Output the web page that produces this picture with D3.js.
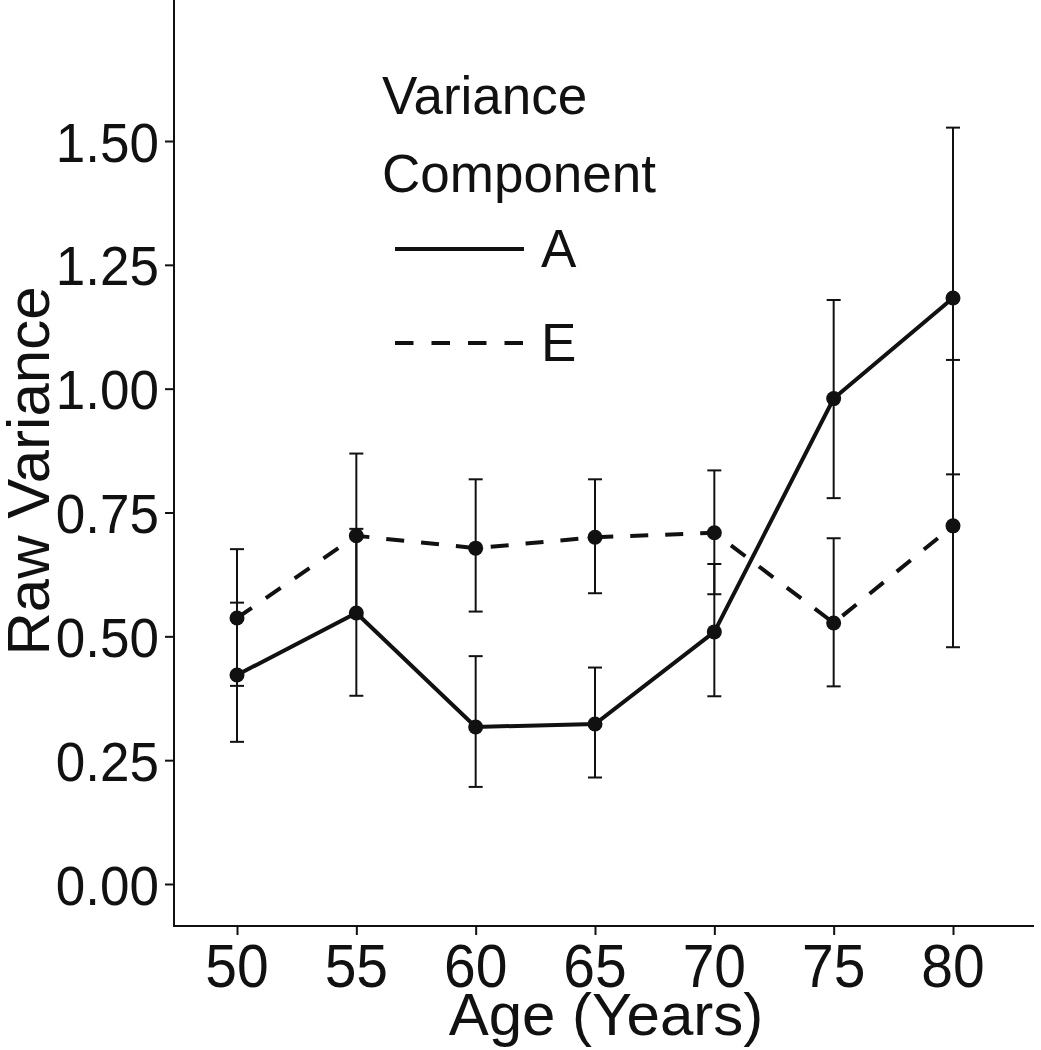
<!DOCTYPE html>
<html><head><meta charset="utf-8">
<script src="https://cdn.jsdelivr.net/npm/d3@7"></script>
<style>html,body{margin:0;padding:0;background:#fff;}svg{display:block;}</style>
</head><body>
<script>
const ages = [50, 55, 60, 65, 70, 75, 80];
const aVals = [0.422, 0.547, 0.317, 0.323, 0.509, 0.980, 1.183];
const aLow  = [0.287, 0.380, 0.196, 0.215, 0.379, 0.779, 0.827];
const aHigh = [0.568, 0.717, 0.460, 0.437, 0.646, 1.179, 1.527];
const eVals = [0.537, 0.703, 0.678, 0.700, 0.709, 0.527, 0.723];
const eLow  = [0.400, 0.540, 0.550, 0.587, 0.585, 0.399, 0.478];
const eHigh = [0.676, 0.869, 0.817, 0.817, 0.835, 0.698, 1.058];
const yTicks = [0, 0.25, 0.5, 0.75, 1.0, 1.25, 1.5];
const xTicks = [50, 55, 60, 65, 70, 75, 80];
const legendTitle = ["Variance", "Component"];
const seriesNames = ["A", "E"];

const W = 1041, H = 1050;
const font = "'Liberation Sans', Arial, Helvetica, sans-serif";
const ink = "#111";
const svg = d3.select("body").append("svg").attr("width", W).attr("height", H);

const x = d3.scaleLinear().domain([50, 80]).range([237, 953]);
const y = d3.scaleLinear().domain([0, 1.5]).range([884, 141]);
const axX = 174, axY = 926, xRight = 1034;

// axes lines
svg.append("line").attr("x1", axX).attr("x2", axX).attr("y1", 0).attr("y2", axY + 1)
  .attr("stroke", ink).attr("stroke-width", 2);
svg.append("line").attr("x1", axX - 1).attr("x2", xRight).attr("y1", axY).attr("y2", axY)
  .attr("stroke", ink).attr("stroke-width", 2);

// y axis ticks
const yAxis = d3.axisLeft(y).tickValues(yTicks).tickFormat("").tickSize(9);
const gy = svg.append("g").attr("transform", `translate(${axX},0)`).call(yAxis);
gy.select(".domain").remove();
gy.selectAll(".tick line").attr("stroke", ink).attr("stroke-width", 2);
const fmtY = d3.format(".2f");
svg.append("g").selectAll("text").data(yTicks).join("text")
  .attr("transform", d => `translate(159,${y(d) + 20.5}) scale(1,1.05)`)
  .attr("text-anchor", "end").attr("font-family", font).attr("font-size", 53).attr("fill", ink)
  .text(d => fmtY(d));

// x axis ticks
const xAxis = d3.axisBottom(x).tickValues(xTicks).tickFormat("").tickSize(9);
const gx = svg.append("g").attr("transform", `translate(0,${axY})`).call(xAxis);
gx.select(".domain").remove();
gx.selectAll(".tick line").attr("stroke", ink).attr("stroke-width", 2);
svg.append("g").selectAll("text").data(xTicks).join("text")
  .attr("transform", d => `translate(${x(d)},987) scale(1,1.08)`)
  .attr("text-anchor", "middle").attr("font-family", font).attr("font-size", 57).attr("fill", ink)
  .text(d => d3.format("d")(d));

// axis titles
svg.append("text").attr("x", 606).attr("y", 1035).attr("text-anchor", "middle")
  .attr("font-family", font).attr("font-size", 60).attr("fill", ink).text("Age (Years)");
svg.append("text").attr("transform", `translate(49,471) rotate(-90)`).attr("text-anchor", "middle")
  .attr("font-family", font).attr("font-size", 60).attr("fill", ink).text("Raw Variance");

const series = [
  {name: "A", vals: aVals, lo: aLow, hi: aHigh, dash: null},
  {name: "E", vals: eVals, lo: eLow, hi: eHigh, dash: "18,17"}
];

const line = d3.line().x(d => x(d.age)).y(d => y(d.v));

series.forEach(s => {
  const pts = ages.map((a, i) => ({age: a, v: s.vals[i], lo: s.lo[i], hi: s.hi[i]}));
  const g = svg.append("g");
  g.selectAll("line.eb").data(pts).join("line")
    .attr("x1", d => x(d.age)).attr("x2", d => x(d.age))
    .attr("y1", d => y(d.lo)).attr("y2", d => y(d.hi))
    .attr("stroke", ink).attr("stroke-width", 2);
  g.selectAll("line.cl").data(pts).join("line")
    .attr("x1", d => x(d.age) - 7).attr("x2", d => x(d.age) + 7)
    .attr("y1", d => y(d.lo)).attr("y2", d => y(d.lo))
    .attr("stroke", ink).attr("stroke-width", 2);
  g.selectAll("line.ch").data(pts).join("line")
    .attr("x1", d => x(d.age) - 7).attr("x2", d => x(d.age) + 7)
    .attr("y1", d => y(d.hi)).attr("y2", d => y(d.hi))
    .attr("stroke", ink).attr("stroke-width", 2);
  g.append("path").datum(pts).attr("d", line).attr("fill", "none")
    .attr("stroke", ink).attr("stroke-width", 4)
    .attr("stroke-dasharray", s.dash);
  g.selectAll("circle").data(pts).join("circle")
    .attr("cx", d => x(d.age)).attr("cy", d => y(d.v)).attr("r", 7.5).attr("fill", ink);
});

// legend
const lg = svg.append("g");
lg.append("text").attr("x", 382).attr("y", 114).attr("font-family", font).attr("font-size", 53).attr("fill", ink).text(legendTitle[0]);
lg.append("text").attr("x", 382).attr("y", 192).attr("font-family", font).attr("font-size", 53).attr("fill", ink).text(legendTitle[1]);
const legY = [249, 343];
const legTextY = [267, 361];
series.forEach((s, i) => {
  lg.append("line").attr("x1", 395).attr("x2", 524).attr("y1", legY[i]).attr("y2", legY[i])
    .attr("stroke", ink).attr("stroke-width", 4).attr("stroke-dasharray", s.dash ? "18.5,18" : null);
  lg.append("text").attr("x", 541).attr("y", legTextY[i]).attr("font-family", font).attr("font-size", 53)
    .attr("fill", ink).text(seriesNames[i]);
});
</script>
</body></html>
